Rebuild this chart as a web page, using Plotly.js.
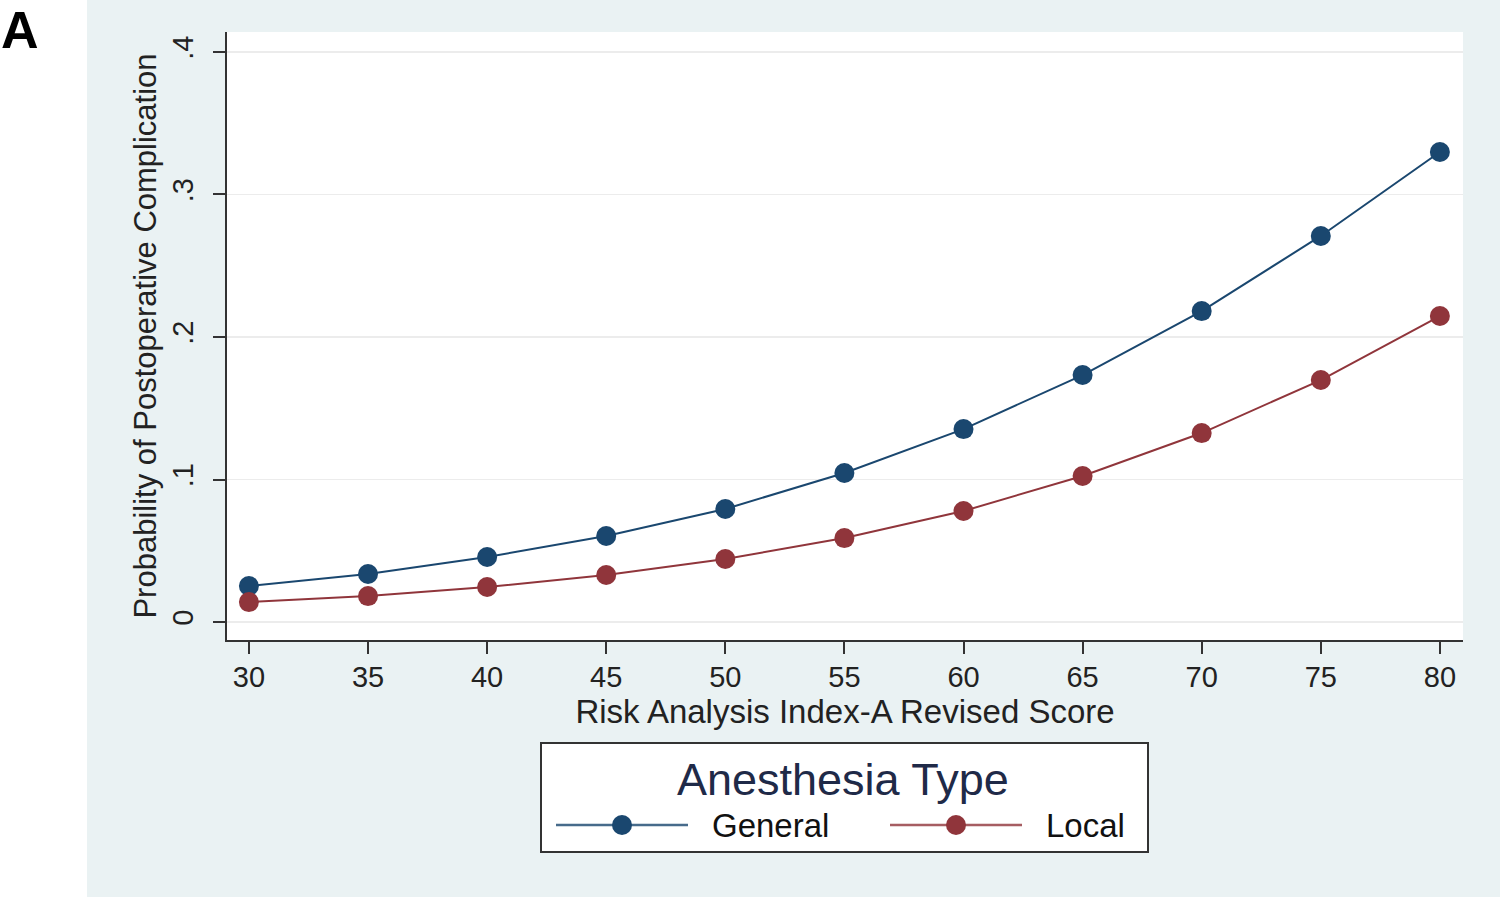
<!DOCTYPE html>
<html>
<head>
<meta charset="utf-8">
<script src="https://cdn.plot.ly/plotly-3.0.1.min.js"></script>
<style>html,body{margin:0;padding:0;background:#fff;}#chart{width:1500px;height:897px;}</style>
</head>
<body>
<div id="chart"></div>
<script>
const scores = [30, 35, 40, 45, 50, 55, 60, 65, 70, 75, 80];
const generalProb = [0.0253, 0.0337, 0.0456, 0.0604, 0.0793, 0.1046, 0.1354, 0.1733, 0.2182, 0.2709, 0.3298];
const localProb = [0.0140, 0.0182, 0.0246, 0.0330, 0.0442, 0.0589, 0.0779, 0.1025, 0.1326, 0.1698, 0.2147];
const yTickVals = [0, 0.1, 0.2, 0.3, 0.4];
const yTickText = ['0', '.1', '.2', '.3', '.4'];
const seriesNames = ['General', 'Local'];
const legendTitle = 'Anesthesia Type';

const W = 1500, H = 897;
const mL = 227, mR = 37, mT = 32, mB = 257;
const pw = W - mL - mR, ph = H - mT - mB;
const px = v => (v - mL) / pw;
const py = v => (H - mB - v) / ph;

const font = 'Liberation Sans, Arial, sans-serif';
const colors = ['#1a476f', '#90353b'];
const seriesData = [generalProb, localProb];

const traces = seriesData.map((ys, i) => ({
  x: scores, y: ys, name: seriesNames[i], type: 'scatter', mode: 'lines+markers',
  line: {color: colors[i], width: 2}, marker: {color: colors[i], size: 20},
  showlegend: false
}));

// Custom legend (Stata style): box, title, long line samples with marker
const shapes = [
  {type: 'rect', xref: 'paper', yref: 'paper', x0: px(0), x1: px(87), y0: py(H), y1: py(0),
   fillcolor: '#ffffff', line: {width: 0}, layer: 'below'},
  {type: 'rect', xref: 'paper', yref: 'paper', x0: px(541), x1: px(1148), y0: py(852), y1: py(743),
   fillcolor: '#ffffff', line: {color: '#333', width: 2}}
];
const annotations = [
  {text: '<b>A</b>', xref: 'paper', yref: 'paper', x: px(0), y: py(0), xanchor: 'left', yanchor: 'top',
   showarrow: false, borderpad: 0, font: {size: 52, family: font, color: '#000'}},
  {text: legendTitle, xref: 'paper', yref: 'paper', x: px(843), y: py(779), xanchor: 'center', yanchor: 'middle',
   showarrow: false, font: {size: 45, family: font, color: '#1f2a48'}}
];
const legendStarts = [556, 890];
seriesNames.forEach((name, i) => {
  const x0 = legendStarts[i], yy = py(825);
  shapes.push({type: 'line', xref: 'paper', yref: 'paper', x0: px(x0), x1: px(x0 + 132), y0: yy, y1: yy,
    line: {color: colors[i], width: 2.5}, opacity: 0.8});
  shapes.push({type: 'circle', xref: 'paper', yref: 'paper', xsizemode: 'pixel', ysizemode: 'pixel',
    xanchor: px(x0 + 66), yanchor: yy, x0: -10, x1: 10, y0: -10, y1: 10,
    fillcolor: colors[i], line: {width: 0}});
  annotations.push({text: name, xref: 'paper', yref: 'paper', x: px(x0 + 154), y: yy, xanchor: 'left', yanchor: 'middle',
    showarrow: false, font: {size: 33, family: font, color: '#111'}});
});

const layout = {
  width: W, height: H,
  margin: {l: mL, r: mR, t: mT, b: mB, pad: 0},
  paper_bgcolor: '#eaf2f3',
  plot_bgcolor: '#ffffff',
  font: {family: font, color: '#222'},
  showlegend: false,
  xaxis: {
    range: [29.08, 80.97], tickvals: scores, ticks: 'outside', ticklen: 12, tickwidth: 2, tickcolor: '#333',
    showline: true, linecolor: '#333', linewidth: 2, showgrid: false, zeroline: false,
    tickfont: {size: 29, family: font, color: '#222'}, ticklabelstandoff: -2,
    title: {text: 'Risk Analysis Index-A Revised Score', font: {size: 33, family: font, color: '#222'}, standoff: 0}
  },
  yaxis: {
    range: [-0.0126, 0.414], tickvals: yTickVals, ticktext: yTickText, tickangle: -90,
    ticks: 'outside', ticklen: 12, tickwidth: 2, tickcolor: '#333',
    showline: true, linecolor: '#333', linewidth: 2, showgrid: true, gridcolor: '#ececec', gridwidth: 1.5,
    zeroline: false, tickfont: {size: 29, family: font, color: '#222'}, ticklabelstandoff: 8,
    title: {text: 'Probability of Postoperative Complication', font: {size: 31, family: font, color: '#222'}, standoff: 2}
  },
  shapes: shapes,
  annotations: annotations
};

Plotly.newPlot('chart', traces, layout, {displayModeBar: false, staticPlot: true});
</script>
</body>
</html>
